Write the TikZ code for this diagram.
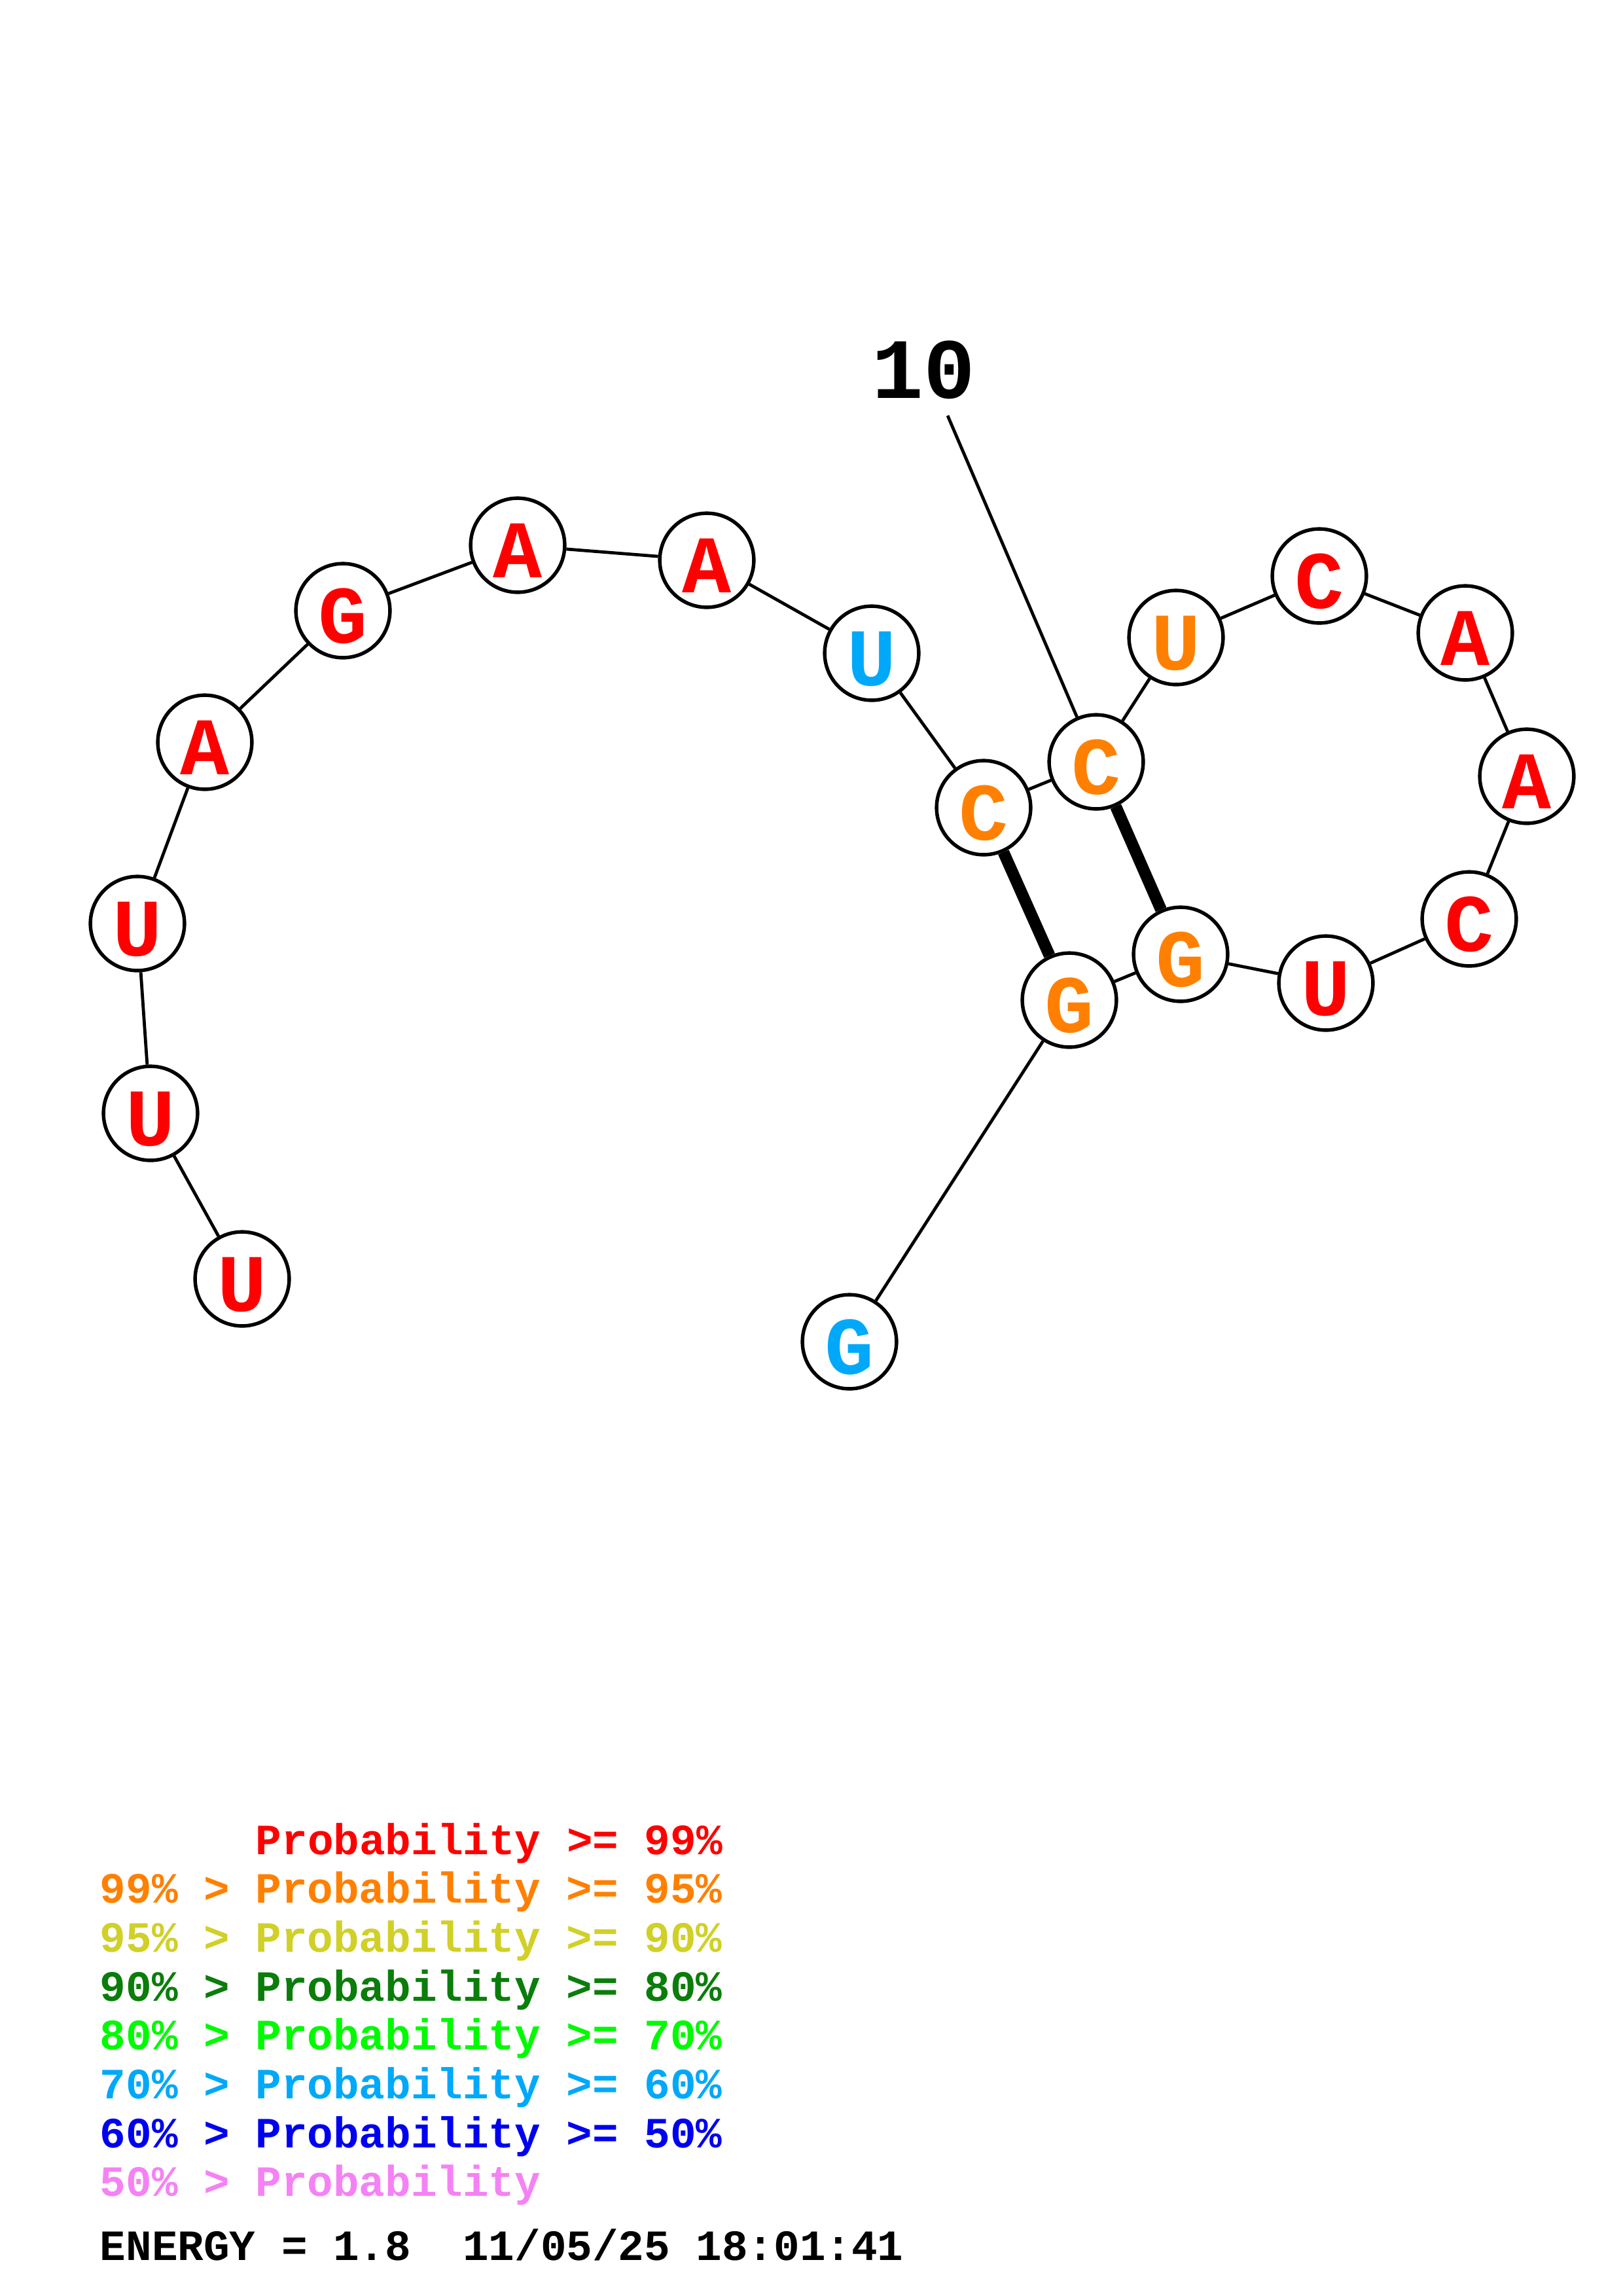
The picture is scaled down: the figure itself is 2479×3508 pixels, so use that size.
\documentclass[tikz,border=0pt]{standalone}
\usepackage{fontspec}
\usepackage{tikz}
\newfontfamily\monofont{Liberation Mono}
\definecolor{prRed}{RGB}{255,0,0}
\definecolor{prOrange}{RGB}{255,128,0}
\definecolor{prYellow}{RGB}{208,208,40}
\definecolor{prDkGreen}{RGB}{10,125,10}
\definecolor{prGreen}{RGB}{0,250,0}
\definecolor{prSky}{RGB}{0,168,250}
\definecolor{prBlue}{RGB}{0,0,240}
\definecolor{prPink}{RGB}{245,130,245}

\begin{document}
\begin{tikzpicture}[x=0.24bp, y=-0.24bp,
    base/.style={circle, draw, line width=1.3bp, minimum size=34.5bp, inner sep=0pt, fill=white,
      font=\monofont\bfseries\fontsize{30bp}{30bp}\selectfont, text height=23.6bp, text depth=0pt},
    bond/.style={line width=1.15bp},
    pair/.style={line width=4.3bp},
    legend/.style={anchor=base west, inner sep=0pt, font=\monofont\bfseries\fontsize{15.84bp}{18bp}\selectfont}
  ]
    \useasboundingbox (0,0) rectangle (2479,3508);
    % bases 1..19
    \node[base, text=prRed] (n1) at (370,1954) {U};
    \node[base, text=prRed] (n2) at (230,1701) {U};
    \node[base, text=prRed] (n3) at (210,1411) {U};
    \node[base, text=prRed] (n4) at (313,1134) {A};
    \node[base, text=prRed] (n5) at (524,933) {G};
    \node[base, text=prRed] (n6) at (791,833) {A};
    \node[base, text=prRed] (n7) at (1080,856) {A};
    \node[base, text=prSky] (n8) at (1332,998) {U};
    \node[base, text=prOrange] (n9) at (1503,1234) {C};
    \node[base, text=prOrange] (n10) at (1675,1164) {C};
    \node[base, text=prOrange] (n11) at (1797,974) {U};
    \node[base, text=prRed] (n12) at (2016,880) {C};
    \node[base, text=prRed] (n13) at (2239,967) {A};
    \node[base, text=prRed] (n14) at (2333,1186) {A};
    \node[base, text=prRed] (n15) at (2245,1404) {C};
    \node[base, text=prRed] (n16) at (2026,1502) {U};
    \node[base, text=prOrange] (n17) at (1804,1458) {G};
    \node[base, text=prOrange] (n18) at (1634,1528) {G};
    \node[base, text=prSky] (n19) at (1298,2050) {G};
    % backbone
    \draw[bond] (n1) -- (n2);
    \draw[bond] (n2) -- (n3);
    \draw[bond] (n3) -- (n4);
    \draw[bond] (n4) -- (n5);
    \draw[bond] (n5) -- (n6);
    \draw[bond] (n6) -- (n7);
    \draw[bond] (n7) -- (n8);
    \draw[bond] (n8) -- (n9);
    \draw[bond] (n9) -- (n10);
    \draw[bond] (n10) -- (n11);
    \draw[bond] (n11) -- (n12);
    \draw[bond] (n12) -- (n13);
    \draw[bond] (n13) -- (n14);
    \draw[bond] (n14) -- (n15);
    \draw[bond] (n15) -- (n16);
    \draw[bond] (n16) -- (n17);
    \draw[bond] (n17) -- (n18);
    \draw[bond] (n18) -- (n19);
    % pairs
    \draw[pair] (n9) -- (n18);
    \draw[pair] (n10) -- (n17);
    % numbering
    \node[anchor=base, inner sep=0pt, font=\monofont\bfseries\fontsize{31.5bp}{32bp}\selectfont] (lbl10) at (1411,608) {10};
    \coordinate (tick10) at (1448,635);
    \draw[bond] (tick10) -- (n10);
    % legend
    \node[legend, text=prRed] (leg1) at (390,2833) {Probability >= 99\%};
    \node[legend, text=prOrange] (leg2) at (152,2907) {99\% > Probability >= 95\%};
    \node[legend, text=prYellow] (leg3) at (152,2982) {95\% > Probability >= 90\%};
    \node[legend, text=prDkGreen] (leg4) at (152,3057) {90\% > Probability >= 80\%};
    \node[legend, text=prGreen] (leg5) at (152,3131) {80\% > Probability >= 70\%};
    \node[legend, text=prSky] (leg6) at (152,3206) {70\% > Probability >= 60\%};
    \node[legend, text=prBlue] (leg7) at (152,3281) {60\% > Probability >= 50\%};
    \node[legend, text=prPink] (leg8) at (152,3355) {50\% > Probability};
    \node[legend] (energy) at (152,3453) {ENERGY = 1.8\ \ 11/05/25 18:01:41};
\end{tikzpicture}
\end{document}
